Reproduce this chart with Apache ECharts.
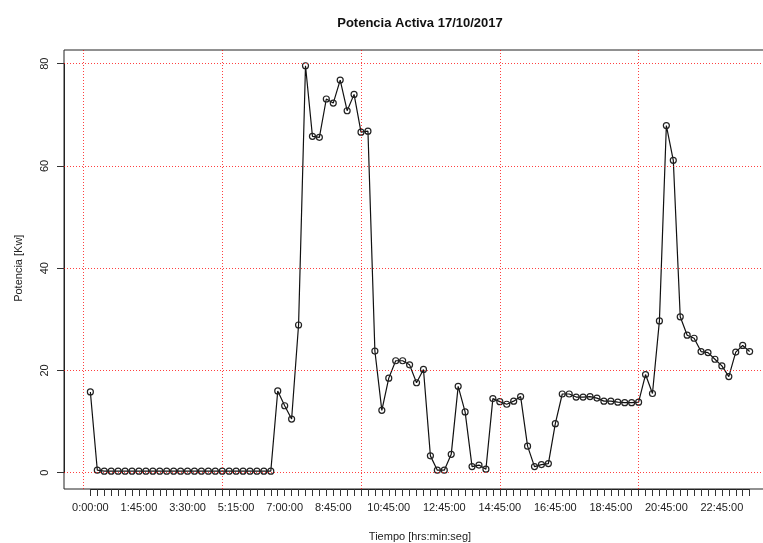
<!DOCTYPE html>
<html>
<head>
<meta charset="utf-8">
<title>Potencia Activa 17/10/2017</title>
<script src="https://cdn.jsdelivr.net/npm/echarts@6/dist/echarts.min.js"></script>
<style>
  html, body { margin: 0; padding: 0; background: #fff; }
  #chart { width: 763px; height: 543px; }
</style>
</head>
<body>
<div id="chart"></div>
<script>
// time of each sample (every 15 min)
var tiempos = [
  '0:00:00', '0:15:00', '0:30:00', '0:45:00', '1:00:00', '1:15:00', '1:30:00', '1:45:00',
  '2:00:00', '2:15:00', '2:30:00', '2:45:00', '3:00:00', '3:15:00', '3:30:00', '3:45:00',
  '4:00:00', '4:15:00', '4:30:00', '4:45:00', '5:00:00', '5:15:00', '5:30:00', '5:45:00',
  '6:00:00', '6:15:00', '6:30:00', '6:45:00', '7:00:00', '7:15:00', '7:30:00', '7:45:00',
  '8:00:00', '8:15:00', '8:30:00', '8:45:00', '9:00:00', '9:15:00', '9:30:00', '9:45:00',
  '10:00:00', '10:15:00', '10:30:00', '10:45:00', '11:00:00', '11:15:00', '11:30:00', '11:45:00',
  '12:00:00', '12:15:00', '12:30:00', '12:45:00', '13:00:00', '13:15:00', '13:30:00', '13:45:00',
  '14:00:00', '14:15:00', '14:30:00', '14:45:00', '15:00:00', '15:15:00', '15:30:00', '15:45:00',
  '16:00:00', '16:15:00', '16:30:00', '16:45:00', '17:00:00', '17:15:00', '17:30:00', '17:45:00',
  '18:00:00', '18:15:00', '18:30:00', '18:45:00', '19:00:00', '19:15:00', '19:30:00', '19:45:00',
  '20:00:00', '20:15:00', '20:30:00', '20:45:00', '21:00:00', '21:15:00', '21:30:00', '21:45:00',
  '22:00:00', '22:15:00', '22:30:00', '22:45:00', '23:00:00', '23:15:00', '23:30:00', '23:45:00'
];

// labels that R managed to print without overlap
var etiquetas = ['0:00:00', '1:45:00', '3:30:00', '5:15:00', '7:00:00', '8:45:00', '10:45:00',
  '12:45:00', '14:45:00', '16:45:00', '18:45:00', '20:45:00', '22:45:00'];

// potencia activa [Kw]
var potencia = [
  15.8, 0.5, 0.3, 0.3, 0.3, 0.3, 0.3, 0.3, 0.3, 0.3, 0.3, 0.3, 0.3, 0.3, 0.3, 0.3,
  0.3, 0.3, 0.3, 0.3, 0.3, 0.3, 0.3, 0.3, 0.3, 0.3, 0.3, 16.0, 13.1, 10.5, 28.9, 79.6,
  65.8, 65.6, 73.1, 72.3, 76.8, 70.8, 74.0, 66.6, 66.8, 23.8, 12.2, 18.5, 21.9, 21.9, 21.1, 17.6,
  20.2, 3.3, 0.5, 0.5, 3.6, 16.9, 11.9, 1.2, 1.5, 0.7, 14.5, 13.9, 13.4, 14.0, 14.9, 5.2,
  1.2, 1.6, 1.8, 9.6, 15.4, 15.4, 14.8, 14.8, 14.9, 14.6, 14.0, 14.0, 13.8, 13.7, 13.7, 13.8,
  19.2, 15.5, 29.7, 67.9, 61.1, 30.5, 26.9, 26.3, 23.7, 23.5, 22.2, 20.9, 18.8, 23.6, 24.9, 23.7
];

var yTicks = [0, 20, 40, 60, 80];
var gridX = [0, 20, 40, 60, 80];   // grid() lines on the sample index scale
var gridY = [0, 20, 40, 60, 80];

// plot box (R style, 4% padding)
var BOX_L = 64, BOX_T = 50, BOX_W = 712, BOX_H = 439;
var XMIN = -2.8, XMAX = 99.8;
var YMIN = -3.18, YMAX = 82.68;

var pxX = BOX_W / (XMAX - XMIN);
var pxY = BOX_H / (YMAX - YMIN);
var font = 'Liberation Sans, Arial, Helvetica, sans-serif';

var chart = echarts.init(document.getElementById('chart'));

var option = {
    animation: false,
    backgroundColor: '#fff',
    textStyle: { fontFamily: font },
    title: {
        text: 'Potencia Activa 17/10/2017',
        left: BOX_L + BOX_W / 2 - 5,
        top: 12,
        textAlign: 'center',
        textStyle: { fontSize: 13, fontWeight: 'bold', color: '#111', fontFamily: font }
    },
    grid: [
        {   // box
            left: BOX_L, top: BOX_T, width: BOX_W, height: BOX_H,
            show: true, borderColor: '#222', borderWidth: 1,
            backgroundColor: 'transparent', outerBoundsMode: 'none'
        },
        {   // x axis from first to last sample
            left: BOX_L + (1 - XMIN) * pxX, top: BOX_T,
            width: (tiempos.length - 1) * pxX, height: BOX_H,
            outerBoundsMode: 'none'
        },
        {   // y axis from 0 to 80
            left: BOX_L, top: BOX_T + (YMAX - yTicks[yTicks.length - 1]) * pxY,
            width: BOX_W, height: (yTicks[yTicks.length - 1] - yTicks[0]) * pxY,
            outerBoundsMode: 'none'
        }
    ],
    xAxis: [
        { type: 'value', gridIndex: 0, min: XMIN, max: XMAX, show: false },
        {
            type: 'category', gridIndex: 1, data: tiempos, boundaryGap: false,
            position: 'bottom',
            name: 'Tiempo [hrs:min:seg]', nameLocation: 'middle', nameGap: 42,
            nameTextStyle: { fontSize: 11, color: '#222' },
            axisLine: { show: true, lineStyle: { color: '#222', width: 1 } },
            axisTick: { show: true, interval: 0, length: 7, lineStyle: { color: '#333' } },
            axisLabel: {
                interval: function (i, v) { return etiquetas.indexOf(v) >= 0; },
                fontSize: 11, color: '#222', margin: 13
            },
            splitLine: { show: false }
        },
        { type: 'value', gridIndex: 2, show: false }
    ],
    yAxis: [
        { type: 'value', gridIndex: 0, min: YMIN, max: YMAX, show: false },
        { type: 'value', gridIndex: 1, show: false },
        {
            type: 'value', gridIndex: 2, min: yTicks[0], max: yTicks[yTicks.length - 1], interval: 20,
            position: 'left',
            name: 'Potencia [Kw]', nameLocation: 'middle', nameGap: 40,
            nameTextStyle: { fontSize: 11, color: '#222' },
            axisLine: { show: true, lineStyle: { color: '#222', width: 1 } },
            axisTick: { show: true, length: 7, lineStyle: { color: '#333' } },
            axisLabel: { rotate: 90, fontSize: 11, color: '#222', margin: 14 },
            splitLine: { show: false }
        }
    ],
    series: [
        {
            name: 'grid',
            type: 'line',
            xAxisIndex: 0, yAxisIndex: 0,
            data: [],
            z: 1,
            color: 'red',
            markLine: {
                silent: true,
                symbol: ['none', 'none'],
                label: { show: false },
                lineStyle: { color: 'red', type: [1, 2], width: 1, opacity: 0.75 },
                emphasis: { disabled: true },
                data: gridX.map(function (v) { return { xAxis: v }; })
                    .concat(gridY.map(function (v) { return { yAxis: v }; }))
            }
        },
        {
            name: 'Potencia',
            type: 'line',
            xAxisIndex: 0, yAxisIndex: 0,
            data: potencia.map(function (v, i) { return [i + 1, v]; }),
            z: 3,
            showAllSymbol: true,
            symbol: 'circle',
            symbolSize: 6,
            itemStyle: { color: 'rgba(0,0,0,0)', borderColor: '#222', borderWidth: 1.2 },
            lineStyle: { color: '#111', width: 1.2 }
        }
    ]
};

chart.setOption(option);
</script>
</body>
</html>
